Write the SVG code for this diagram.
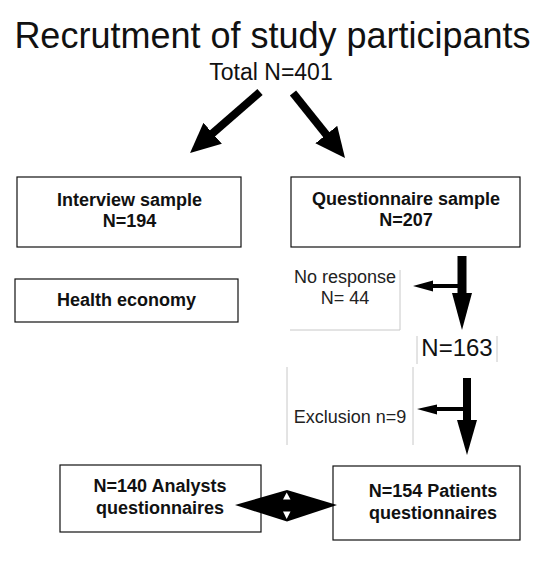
<svg xmlns="http://www.w3.org/2000/svg" width="555" height="570" viewBox="0 0 555 570">
<style>
.box{fill:#fff;stroke:#111;stroke-width:1.2}
.b{font-family:"Liberation Sans",Arial,sans-serif;font-weight:bold;font-size:18px;fill:#111;text-anchor:middle}
.r{font-family:"Liberation Sans",Arial,sans-serif;font-size:18px;fill:#222;text-anchor:middle}
.faint{stroke:#c8c8c8;stroke-width:1;fill:none}
.arr{fill:#000}
</style>
<defs>
<marker id="ah" markerUnits="userSpaceOnUse" markerWidth="32" markerHeight="30" refX="5" refY="14" orient="auto">
<path d="M0,0 L30,14 L0,28 z" fill="#000"/>
</marker>
</defs>
<rect width="555" height="570" fill="#fff"/>
<text x="272.5" y="48" font-family="Liberation Sans,Arial,sans-serif" font-size="36" text-anchor="middle" fill="#111">Recrutment of study participants</text>
<text x="271" y="80" font-family="Liberation Sans,Arial,sans-serif" font-size="23" text-anchor="middle" fill="#111">Total N=401</text>

<g id="interview">
<rect class="box" x="17" y="177" width="224" height="70"/>
<text class="b" x="129.5" y="206">Interview sample</text>
<text class="b" x="129.5" y="227">N=194</text>
</g>
<g id="questionnaire">
<rect class="box" x="291" y="177" width="229" height="70"/>
<text class="b" x="406" y="205">Questionnaire sample</text>
<text class="b" x="406" y="226">N=207</text>
</g>
<g id="health">
<rect class="box" x="15" y="279" width="223" height="43"/>
<text class="b" x="126.5" y="306">Health economy</text>
</g>
<g id="noresponse">
<path class="faint" d="M400,270 V330 H290"/>
<text class="r" x="345" y="283">No response</text>
<text class="r" x="345" y="304">N= 44</text>
</g>
<g id="n163">
<path class="faint" d="M417,336 V364 M497,336 V362"/>
<text x="457" y="356" font-family="Liberation Sans,Arial,sans-serif" font-size="24" text-anchor="middle" fill="#111">N=163</text>
</g>
<g id="exclusion">
<path class="faint" d="M287,367 V445 M413,367 V445"/>
<text class="r" x="350" y="423">Exclusion n=9</text>
</g>
<g id="analysts">
<rect class="box" x="60" y="465" width="201" height="67"/>
<text class="b" x="160" y="492">N=140 Analysts</text>
<text class="b" x="160" y="513.5">questionnaires</text>
</g>
<g id="patients">
<rect class="box" x="333" y="466" width="187" height="74"/>
<text class="b" x="433" y="497">N=154 Patients</text>
<text class="b" x="433" y="518.5">questionnaires</text>
</g>

<g id="connectors">
<line x1="260" y1="92" x2="208.9" y2="136.6" stroke="#000" stroke-width="8" marker-end="url(#ah)"/>
<line x1="293" y1="93" x2="329.4" y2="138.5" stroke="#000" stroke-width="8" marker-end="url(#ah)"/>
<rect class="arr" x="457.5" y="256" width="9" height="40"/>
<polygon class="arr" points="452,293 472,293 462,330"/>
<rect class="arr" x="431" y="284" width="30" height="4"/>
<polygon class="arr" points="433,280.5 413,286 433,291.5"/>
<rect class="arr" x="463" y="378" width="8" height="45"/>
<polygon class="arr" points="457,420 477,420 467,455"/>
<rect class="arr" x="434" y="407" width="31" height="4"/>
<polygon class="arr" points="437,404.5 417,409 437,414.5"/>
<polygon class="arr" points="235,505 287,490 337,505 287,521.5"/>
<polygon fill="#fff" points="283,499.5 290.5,499.5 286.7,492.5"/>
<polygon fill="#fff" points="283,511.5 290.5,511.5 286.7,519"/>
</g>
</svg>
